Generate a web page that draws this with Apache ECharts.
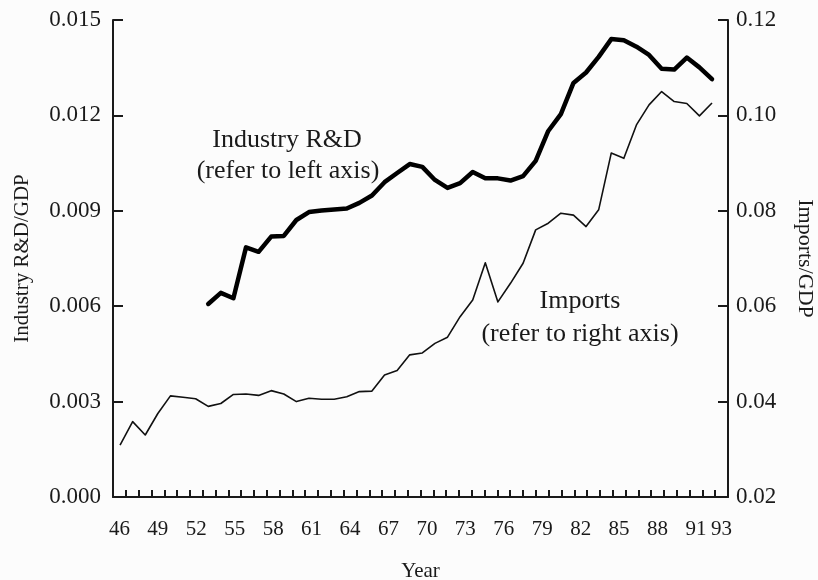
<!DOCTYPE html>
<html>
<head>
<meta charset="utf-8">
<script src="https://cdn.jsdelivr.net/npm/echarts@6/dist/echarts.min.js"></script>
<style>
html,body{margin:0;padding:0;background:#fcfcfc;}
#chart{width:818px;height:580px;}
</style>
</head>
<body>
<div id="chart"></div>
<script>
// Years 1946-1993 (two-digit, as in the original)
const years = [46,47,48,49,50,51,52,53,54,55,56,57,58,59,60,61,62,63,64,65,66,67,68,69,70,71,72,73,74,75,76,77,78,79,80,81,82,83,84,85,86,87,88,89,90,91,92,93];

// Industry R&D / GDP (left axis), 1953-1993
const rdYears = [53,54,55,56,57,58,59,60,61,62,63,64,65,66,67,68,69,70,71,72,73,74,75,76,77,78,79,80,81,82,83,84,85,86,87,88,89,90,91,92,93];
const rdValues = [0.00607,0.00642,0.00625,0.00785,0.00771,0.00819,0.00821,0.00871,0.00896,0.00901,0.00904,0.00907,0.00925,0.00948,0.00990,0.01019,0.01047,0.01038,0.00997,0.00972,0.00987,0.01022,0.01002,0.01002,0.00995,0.01009,0.01057,0.01151,0.01204,0.01302,0.01335,0.01384,0.01440,0.01436,0.01416,0.01390,0.01347,0.01344,0.01382,0.01351,0.01314];

// Imports / GDP (right axis), 1946-1993
const importValues = [0.0309,0.0358,0.0330,0.0375,0.0412,0.0409,0.0406,0.0390,0.0396,0.0415,0.0416,0.0413,0.0423,0.0416,0.0400,0.0407,0.0405,0.0405,0.0410,0.0421,0.0422,0.0456,0.0465,0.0498,0.0502,0.0522,0.0535,0.0578,0.0613,0.0691,0.0609,0.0648,0.0690,0.0760,0.0774,0.0795,0.0791,0.0767,0.0802,0.0921,0.0910,0.0980,0.1022,0.1050,0.1029,0.1025,0.0999,0.1026];

// Year labels shown under the axis
const labelYears = [46,49,52,55,58,61,64,67,70,73,76,79,82,85,88,91,93];

const yearCats = years.map(String);
const rdData = rdYears.map((y, i) => [y, rdValues[i]]);
const importData = years.map((y, i) => [y, importValues[i]]);

const FONT = '"Liberation Serif", "DejaVu Serif", serif';
const INK = '#1a1a1a';

const chart = echarts.init(document.getElementById('chart'), null, {renderer: 'canvas'});
chart.setOption({
  backgroundColor: '#fcfcfc',
  animation: false,
  grid: {left: 113, right: 90, top: 20, bottom: 83, containLabel: false, outerBoundsMode: 'none'},
  xAxis: [
    {
      type: 'category',
      data: yearCats,
      boundaryGap: true,
      name: 'Year',
      nameLocation: 'middle',
      nameGap: 64,
      nameTextStyle: {fontFamily: FONT, fontSize: 21, color: INK},
      axisLine: {lineStyle: {color: INK, width: 2}},
      axisTick: {show: true, inside: true, length: 7, interval: 0, lineStyle: {color: INK, width: 2}},
      axisLabel: {
        interval: (idx, val) => labelYears.indexOf(Number(val)) >= 0,
        fontFamily: FONT, fontSize: 21, color: INK, margin: 22
      },
      splitLine: {show: false}
    },
    {
      // data scale for the plotted lines (the original's plot area is slightly narrower than its tick ruler)
      type: 'value', show: false, min: 45.44, max: 94.27,
      splitLine: {show: false}
    }
  ],
  yAxis: [
    {
      type: 'value', min: 0, max: 0.015, interval: 0.003, position: 'left',
      name: 'Industry R&D/GDP', nameLocation: 'middle', nameRotate: 90, nameGap: 80,
      nameTextStyle: {fontFamily: FONT, fontSize: 21, color: INK},
      axisLine: {show: true, lineStyle: {color: INK, width: 2}},
      axisTick: {show: true, inside: true, length: 10, lineStyle: {color: INK, width: 2}},
      axisLabel: {formatter: v => v.toFixed(3), fontFamily: FONT, fontSize: 23, color: INK, margin: 12},
      splitLine: {show: false}
    },
    {
      type: 'value', min: 0.02, max: 0.12, interval: 0.02, position: 'right',
      name: 'Imports/GDP', nameLocation: 'middle', nameRotate: -90, nameGap: 66,
      nameTextStyle: {fontFamily: FONT, fontSize: 22, color: INK},
      axisLine: {show: true, lineStyle: {color: INK, width: 2}},
      axisTick: {show: true, inside: true, length: 10, lineStyle: {color: INK, width: 2}},
      axisLabel: {formatter: v => v.toFixed(2), fontFamily: FONT, fontSize: 23, color: INK, margin: 8},
      splitLine: {show: false}
    }
  ],
  series: [
    {
      name: 'Industry R&D', type: 'line', xAxisIndex: 1, yAxisIndex: 0, data: rdData,
      showSymbol: false,
      lineStyle: {color: '#000', width: 4.5, join: 'round', cap: 'round'}
    },
    {
      name: 'Imports', type: 'line', xAxisIndex: 1, yAxisIndex: 1, data: importData,
      showSymbol: false,
      lineStyle: {color: '#111', width: 1.6, join: 'round'}
    }
  ],
  graphic: [
    {type: 'text', x: 287, y: 140, style: {text: 'Industry R&D', font: '26px ' + FONT, fill: INK, textAlign: 'center', textVerticalAlign: 'middle'}},
    {type: 'text', x: 288, y: 171, style: {text: '(refer to left axis)', font: '26px ' + FONT, fill: INK, textAlign: 'center', textVerticalAlign: 'middle'}},
    {type: 'text', x: 580, y: 301, style: {text: 'Imports', font: '26px ' + FONT, fill: INK, textAlign: 'center', textVerticalAlign: 'middle'}},
    {type: 'text', x: 580, y: 334, style: {text: '(refer to right axis)', font: '26px ' + FONT, fill: INK, textAlign: 'center', textVerticalAlign: 'middle'}}
  ]
});
</script>
</body>
</html>
